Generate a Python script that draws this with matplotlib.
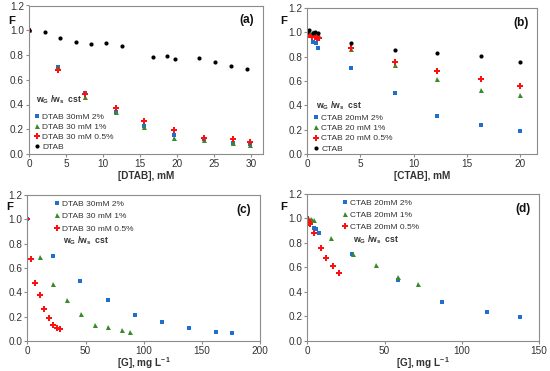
import numpy as np
import matplotlib.pyplot as plt
from matplotlib.ticker import MultipleLocator

plt.rcParams['font.family'] = ['Liberation Sans', 'DejaVu Sans']

# ---- data ----
# (a) F vs [DTAB], mM
a_x = [0, 3.9, 7.6, 11.8, 15.6, 19.6, 23.6, 27.6, 29.9]
a_2pct = [1.0, 0.703, 0.494, 0.34, 0.225, 0.155, 0.12, 0.092, 0.08]
a_1pct = [1.0, 0.70, 0.46, 0.34, 0.22, 0.13, 0.112, 0.087, 0.072]
a_05pct = [0.995, 0.678, 0.482, 0.375, 0.268, 0.19, 0.13, 0.12, 0.10]
a_dtab_x = [0, 2.1, 4.2, 6.3, 8.4, 10.4, 12.6, 16.8, 18.7, 19.8, 23.0, 25.2, 27.3, 29.5]
a_dtab_y = [1.0, 0.985, 0.94, 0.905, 0.89, 0.893, 0.872, 0.78, 0.795, 0.77, 0.773,
            0.74, 0.715, 0.685]

# (b) F vs [CTAB], mM
b_2pct_x = [0, 0.5, 0.8, 1.05, 4.1, 8.2, 12.2, 16.3, 20.0]
b_2pct = [1.0, 0.92, 0.91, 0.875, 0.71, 0.50, 0.315, 0.237, 0.193]
b_1pct_x = [0, 0.25, 0.5, 0.75, 1.05, 4.1, 8.2, 12.2, 16.3, 20.0]
b_1pct = [1.0, 1.0, 1.0, 0.995, 0.985, 0.86, 0.733, 0.62, 0.53, 0.487]
b_05pct_x = [0, 0.2, 0.45, 0.7, 0.9, 1.1, 4.1, 8.2, 12.2, 16.3, 20.0]
b_05pct = [0.99, 0.975, 0.965, 0.96, 0.955, 0.955, 0.875, 0.755, 0.683, 0.617, 0.563]
b_ctab_x = [0, 0.2, 0.5, 0.75, 1.0, 4.1, 8.2, 12.2, 16.3, 20.0]
b_ctab_y = [1.0, 1.02, 0.995, 1.0, 0.995, 0.915, 0.858, 0.833, 0.808, 0.755]

# (c) F vs [G], mg/L  (DTAB)
c_2pct_x = [0, 21.8, 45.4, 69, 92.2, 115.5, 139, 162, 176]
c_2pct = [1.0, 0.70, 0.494, 0.335, 0.216, 0.153, 0.11, 0.077, 0.068]
c_1pct_x = [10.9, 22.4, 34.5, 46, 57.8, 69.5, 81, 88.2]
c_1pct = [0.69, 0.466, 0.34, 0.219, 0.129, 0.112, 0.09, 0.077]
c_05pct_x = [0, 3.2, 6.9, 10.6, 14.7, 18.4, 21.8, 25.9, 28.2]
c_05pct = [1.0, 0.674, 0.479, 0.375, 0.266, 0.186, 0.129, 0.11, 0.099]

# (d) F vs [G], mg/L  (CTAB)
d_2pct_x = [0, 4.4, 5.7, 7.5, 29, 58.5, 87.5, 116.5, 138]
d_2pct = [1.0, 0.92, 0.91, 0.878, 0.71, 0.50, 0.315, 0.237, 0.193]
d_1pct_x = [0, 1.2, 2.2, 3.2, 4.2, 15.2, 29.5, 44.5, 59, 71.5]
d_1pct = [1.0, 0.995, 0.995, 0.99, 0.985, 0.84, 0.71, 0.62, 0.52, 0.465]
d_05pct_x = [0, 0.3, 0.6, 0.9, 1.2, 1.6, 4.5, 8.7, 12.4, 16.6, 20.4]
d_05pct = [0.99, 0.985, 0.975, 0.97, 0.96, 0.955, 0.878, 0.755, 0.676, 0.613, 0.557]

BLUE = '#1f6fd1'
GREEN = '#3a8a2a'
RED = '#ff1010'
BLACK = '#000000'
GRID = '#8c8c8c'
TXT = '#333333'

STY = {
    '2': dict(marker='s', color=BLUE, ms=3.0),
    '1': dict(marker='^', color=GREEN, ms=3.6),
    '05': dict(marker='P', color=RED, ms=4.0),
    'k': dict(marker='o', color=BLACK, ms=3.0),
}

fig = plt.figure(figsize=(5.5, 3.71), dpi=100)


def setup(ax, xmax, xstep, xlabel, tag, label_off):
    ax.set_xlim(0, xmax)
    ax.set_ylim(0, 1.2)
    ax.xaxis.set_major_locator(MultipleLocator(xstep))
    ax.yaxis.set_major_locator(MultipleLocator(0.2))
    ax.yaxis.set_major_formatter(plt.FormatStrFormatter('%.1f'))
    for s in ax.spines.values():
        s.set_color(GRID)
        s.set_linewidth(0.8)
    ax.tick_params(direction='out', length=2.5, width=0.8, color=GRID,
                   labelsize=7.2, labelcolor=TXT, pad=1.2)
    # x axis title placed just under the tick labels
    ax.annotate(xlabel, xy=(0.5, 0), xycoords='axes fraction',
                xytext=(0, -label_off), textcoords='offset pixels',
                ha='center', va='center', fontsize=7.2, fontweight='bold', color=TXT)
    ax.text(0.93, 0.90, tag, transform=ax.transAxes, ha='center', va='center',
            fontsize=8.6, fontweight='bold', color='#111111')


def line(ax, x, y, key, label):
    ax.plot(x, y, linestyle='none', markeredgewidth=0, label=label, **STY[key])


def wtext(ax, x, y):
    ax.text(x, y, r'w$_\mathregular{G}$ /w$_\mathregular{s}$  cst', transform=ax.transAxes,
            fontsize=6.2, fontweight='bold', color=TXT, ha='left', va='center')


def leg(ax, loc, anchor, spacing):
    ax.legend(loc=loc, bbox_to_anchor=anchor, frameon=False, fontsize=6.0,
              handlelength=0.7, handletextpad=0.3, labelspacing=spacing,
              borderpad=0, borderaxespad=0, labelcolor=TXT, markerscale=1.0)


# (a)
axa = fig.add_axes([29 / 550, 1 - 154 / 371, 233.7 / 550, 148.5 / 371])
line(axa, a_x, a_2pct, '2', 'DTAB 30mM 2%')
line(axa, a_x, a_1pct, '1', 'DTAB 30 mM 1%')
line(axa, a_x, a_05pct, '05', 'DTAB 30 mM 0.5%')
line(axa, a_dtab_x, a_dtab_y, 'k', 'DTAB')
setup(axa, 31.6, 5, '[DTAB], mM', '(a)', 22)
leg(axa, 'lower left', (0.02, 0.02), 0.27)
wtext(axa, 0.03, 0.364)

# (b)
axb = fig.add_axes([307.3 / 550, 1 - 154 / 371, 229.4 / 550, 146 / 371])
line(axb, b_2pct_x, b_2pct, '2', 'CTAB 20mM 2%')
line(axb, b_1pct_x, b_1pct, '1', 'CTAB 20 mM 1%')
line(axb, b_05pct_x, b_05pct, '05', 'CTAB 20 mM 0.5%')
line(axb, b_ctab_x, b_ctab_y, 'k', 'CTAB')
setup(axb, 21.57, 5, '[CTAB], mM', '(b)', 22)
leg(axb, 'lower left', (0.025, 0.01), 0.27)
wtext(axb, 0.038, 0.33)

# (c)
axc = fig.add_axes([27.3 / 550, 1 - 341 / 371, 233 / 550, 146 / 371])
line(axc, c_2pct_x, c_2pct, '2', 'DTAB 30mM 2%')
line(axc, c_1pct_x, c_1pct, '1', 'DTAB 30 mM 1%')
line(axc, c_05pct_x, c_05pct, '05', 'DTAB 30 mM 0.5%')
setup(axc, 200, 50, r'[G], mg L$^\mathregular{-1}$', '(c)', 22)
leg(axc, 'upper left', (0.115, 0.965), 0.55)
wtext(axc, 0.153, 0.69)

# (d)
axd = fig.add_axes([307.3 / 550, 1 - 340.7 / 371, 231.7 / 550, 146.7 / 371])
line(axd, d_2pct_x, d_2pct, '2', 'CTAB 20mM 2%')
line(axd, d_1pct_x, d_1pct, '1', 'CTAB 20mM 1%')
line(axd, d_05pct_x, d_05pct, '05', 'CTAB 20mM 0.5%')
setup(axd, 150, 50, r'[G], mg L$^\mathregular{-1}$', '(d)', 22)
leg(axd, 'upper left', (0.15, 0.965), 0.5)
wtext(axd, 0.197, 0.69)

# "F" axis titles
for fx, fy in [(12, 21), (284, 21), (10, 207), (284, 207)]:
    fig.text(fx / 550, 1 - fy / 371, 'F', fontsize=8.2, fontweight='bold',
             color='#111111', ha='center', va='center')

fig.savefig('out.png', dpi=100)
